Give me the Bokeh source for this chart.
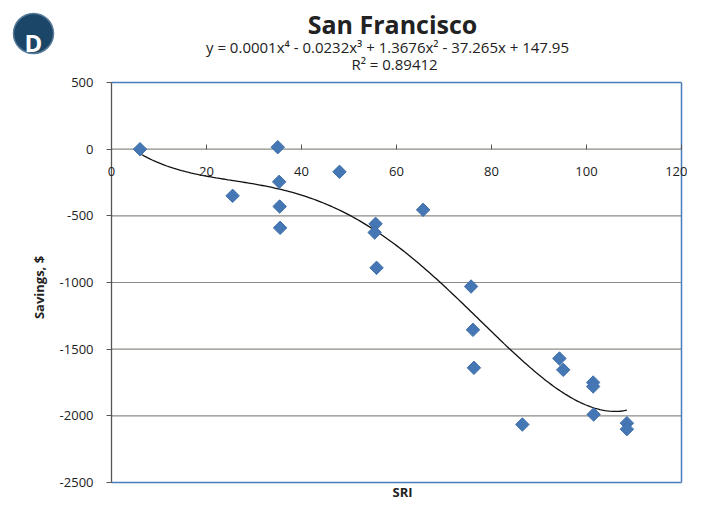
import numpy as np
from bokeh.plotting import figure
from bokeh.models import LinearAxis, FixedTicker, Range1d, CustomJSTickFormatter
from bokeh.core.properties import value
from bokeh.embed import file_html
from bokeh.resources import INLINE

# Data
sri = [6, 25.5, 35, 35.3, 35.4, 35.5, 48, 55.6, 55.4, 55.8, 65.6, 75.7, 76.1, 76.3,
       86.5, 94.3, 95.1, 101.4, 101.4, 101.5, 108.5, 108.5]
savings = [0, -350, 15, -245, -430, -590, -170, -560, -625, -890, -455, -1030, -1355, -1640,
           -2065, -1570, -1655, -1750, -1780, -1990, -2055, -2100]
x_ticks = [0, 20, 40, 60, 80, 100, 120]
y_ticks = [-2500, -2000, -1500, -1000, -500, 0, 500]
x_min, x_max = 0, 120
y_min, y_max = -2500, 500
title_text = "San Francisco"
equation_text = "y = 0.0001x\u2074 - 0.0232x\u00b3 + 1.3676x\u00b2 - 37.265x + 147.95"
r2_text = "R\u00b2 = 0.89412"
badge_text = "D"
x_label = "SRI"
y_label = "Savings, $"

FONT = "Open Sans"
TXT = "#222222"
BLUE_BORDER = "#4a7ebb"
GRID = "#8c8c84"

# Canvas geometry: the frame fills the whole canvas; the plot box is placed by the ranges
W, H = 687, 501
BOX_L, BOX_R = 111, 681      # canvas px of x_min, x_max
BOX_T, BOX_B = 82, 482       # canvas px of y_max, y_min
PXU = (BOX_R - BOX_L) / (x_max - x_min)
PYU = (BOX_B - BOX_T) / (y_max - y_min)
xr = Range1d(x_min - BOX_L / PXU, x_max + (W - BOX_R) / PXU)
yr = Range1d(y_min - (H - BOX_B) / PYU, y_max + BOX_T / PYU)


def cx(px):
    return xr.start + px / PXU


def cy(py):
    return yr.end - py / PYU


p = figure(width=W, height=H, output_backend="svg", toolbar_location=None,
           x_range=xr, y_range=yr, x_axis_location=None, y_axis_location=None,
           title=None, min_border=0)
p.background_fill_color = "white"
p.border_fill_color = "white"
p.outline_line_color = None
p.grid.visible = False

# horizontal gridlines between the axis and the right border
inner = [t for t in y_ticks if y_min < t < y_max]
p.segment(x0=[x_min] * len(inner), x1=[x_max] * len(inner), y0=inner, y1=inner,
          line_color=GRID, line_width=1.2)
# plot-area border (top, bottom, right)
p.segment(x0=[x_min, x_min, x_max], x1=[x_max, x_max, x_max],
          y0=[y_max, y_min, y_min], y1=[y_max, y_min, y_max],
          line_color=BLUE_BORDER, line_width=1.5)
# y axis line
p.segment(x0=[x_min], x1=[x_min], y0=[y_min], y1=[y_max], line_color="#555555", line_width=1.3)

# y axis at x = 0
ya = LinearAxis(fixed_location=0, ticker=FixedTicker(ticks=y_ticks),
                formatter=CustomJSTickFormatter(code="return tick.toString()"))
ya.major_label_text_font = FONT
ya.major_label_text_font_size = "13px"
ya.major_label_text_color = TXT
ya.major_label_standoff = 13
ya.axis_line_color = None
ya.major_tick_line_color = "#555555"
ya.major_tick_in = 0
ya.major_tick_out = 5
ya.minor_tick_line_color = None
p.add_layout(ya, "left")

# x axis crossing at y = 0
xa = LinearAxis(fixed_location=0, ticker=FixedTicker(ticks=x_ticks))
xa.major_label_text_font = FONT
xa.major_label_text_font_size = "13px"
xa.major_label_text_color = TXT
xa.major_label_standoff = 18
xa.axis_line_color = None
xa.major_tick_line_color = "#555555"
xa.major_tick_in = 5
xa.major_tick_out = 0
xa.minor_tick_line_color = None
p.add_layout(xa, "below")

# trendline (4th order polynomial fit of the data)
coef = np.polyfit(sri, savings, 4)
xs = np.linspace(min(sri), max(sri), 200)
ys = np.polyval(coef, xs)
p.line(xs, ys, line_color="#111111", line_width=1.3)

p.scatter(sri, savings, marker="square", angle=np.pi / 4, size=9.5,
          fill_color="#4677b5", line_color="#3f6ea8")

# titles, badge and axis titles
p.scatter(x=[cx(33)], y=[cy(33)], marker="circle", size=40,
          fill_color="#1c4668", line_color="#577a99", line_width=1.5)
p.text(x=[cx(33)], y=[cy(41.5)], text=[badge_text], text_font=value(FONT), text_font_style="bold",
       text_font_size="24px", text_color="white", text_align="center", text_baseline="alphabetic")
p.text(x=[cx(392)], y=[cy(23)], text=[title_text], text_font=value(FONT), text_font_style="bold",
       text_font_size="25px", text_color=TXT, text_align="center", text_baseline="alphabetic")
p.text(x=[cx(387)], y=[cy(46.7)], text=[equation_text], text_font=value(FONT),
       text_font_size="15px", text_color=TXT, text_align="center", text_baseline="alphabetic")
p.text(x=[cx(394)], y=[cy(63.3)], text=[r2_text], text_font=value(FONT),
       text_font_size="15px", text_color=TXT, text_align="center", text_baseline="alphabetic")
p.text(x=[cx(402)], y=[cy(491)], text=[x_label], text_font=value(FONT), text_font_style="bold",
       text_font_size="13px", text_color=TXT, text_align="center", text_baseline="middle")
p.text(x=[cx(38)], y=[cy(287)], text=[y_label], text_font=value(FONT), text_font_style="bold",
       text_font_size="13px", text_color=TXT, text_align="center", text_baseline="middle",
       angle=np.pi / 2)

open("out.html", "w").write(file_html(p, INLINE))
